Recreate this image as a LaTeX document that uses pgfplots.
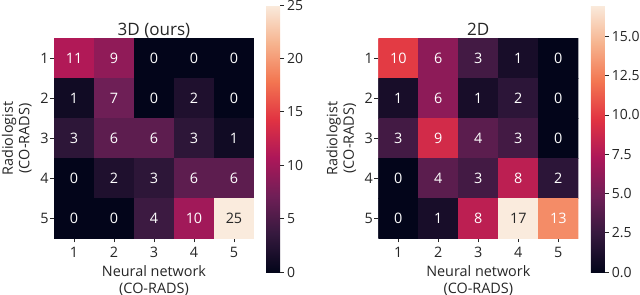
\documentclass[border=0pt]{standalone}
\usepackage{pgfplots}
\pgfplotsset{compat=1.18}
\usepackage{fontspec}
\setmainfont{Open Sans}
\definecolor{txt}{HTML}{262626}
\pgfplotsset{
  colormap={rocket}{rgb255=(3,5,26) rgb255=(53,25,62) rgb255=(112,31,87) rgb255=(173,23,89) rgb255=(225,51,66) rgb255=(243,118,81) rgb255=(246,180,143) rgb255=(250,235,221)},
  hm/.style={
    scale only axis, width=150pt, height=150pt,
    xmin=0.5, xmax=5.5, ymin=0.5, ymax=5.5, y dir=reverse,
    enlargelimits=false,
    xtick={1,...,5}, ytick={1,...,5},
    axis line style={draw=none},
    tick pos=left, tick align=outside, major tick length=3pt,
    tick style={draw=txt, line width=0.6pt},
    /pgf/number format/assume math mode=true,
    tick label style={font=\fontsize{10.8}{12.8}\selectfont, text=txt},
    yticklabel style={xshift=2.5pt},
    colormap name=rocket,
    title style={font=\fontsize{12.8}{15}\selectfont, text=txt, at={(axis description cs:0.5,1)}, anchor=base, yshift=-3.9pt},
    xlabel={Neural network\\(CO-RADS)},
    ylabel={Radiologist\\(CO-RADS)},
    label style={font=\fontsize{10.8}{12.4}\selectfont, text=txt, align=center, inner sep=0pt},
    xlabel style={at={(axis description cs:0.5,-0.135)}, anchor=north},
    ylabel style={at={(axis description cs:-0.11,0.5)}, anchor=south},
    point meta min=0,
    colorbar,
    colorbar style={at={(parent axis.north east)}, anchor=north west, xshift=0.5pt, yshift=25.1pt,
      scale only axis, width=10.5pt, height=200.25pt,
      axis line style={draw=none}, ytick pos=right, tick align=outside, major tick length=3pt,
      tick style={draw=txt, line width=0.6pt},
      /pgf/number format/assume math mode=true,
      yticklabel style={font=\fontsize{10.5}{12.6}\selectfont, text=txt, xshift=-1.2pt}},
  },
  ann/.style={draw=none, mark=none, nodes near coords, point meta=explicit symbolic,
    nodes near coords style={anchor=center, font=\fontsize{10.8}{12.8}\selectfont, text=#1}},
}
\begin{document}
\begin{tikzpicture}
% ---------- 3D (ours) ----------
\begin{axis}[hm, at={(0pt,0pt)}, title={3D (ours)}, point meta max=25,
  colorbar style={ytick={0,5,10,15,20,25}}]
\addplot[matrix plot*, mesh/cols=5, point meta=explicit] table[meta=c] {
x y c
1 1 11
2 1 9
3 1 0
4 1 0
5 1 0
1 2 1
2 2 7
3 2 0
4 2 2
5 2 0
1 3 3
2 3 6
3 3 6
4 3 3
5 3 1
1 4 0
2 4 2
3 4 3
4 4 6
5 4 6
1 5 0
2 5 0
3 5 4
4 5 10
5 5 25
};
\addplot[ann=white] table[meta=l] {
x y l
1 1 11
2 1 9
3 1 0
4 1 0
5 1 0
1 2 1
2 2 7
3 2 0
4 2 2
5 2 0
1 3 3
2 3 6
3 3 6
4 3 3
5 3 1
1 4 0
2 4 2
3 4 3
4 4 6
5 4 6
1 5 0
2 5 0
3 5 4
4 5 10
};
\addplot[ann=txt] table[meta=l] {
x y l
5 5 25
};
\end{axis}
% ---------- 2D ----------
\begin{axis}[hm, at={(243.25pt,0pt)}, title={2D}, point meta max=17,
  colorbar style={xshift=0.3pt, ytick={0,2.5,5,7.5,10,12.5,15},
    /pgf/number format/fixed, /pgf/number format/fixed zerofill, /pgf/number format/precision=1}]
\addplot[matrix plot*, mesh/cols=5, point meta=explicit] table[meta=c] {
x y c
1 1 10
2 1 6
3 1 3
4 1 1
5 1 0
1 2 1
2 2 6
3 2 1
4 2 2
5 2 0
1 3 3
2 3 9
3 3 4
4 3 3
5 3 0
1 4 0
2 4 4
3 4 3
4 4 8
5 4 2
1 5 0
2 5 1
3 5 8
4 5 17
5 5 13
};
\addplot[ann=white] table[meta=l] {
x y l
1 1 10
2 1 6
3 1 3
4 1 1
5 1 0
1 2 1
2 2 6
3 2 1
4 2 2
5 2 0
1 3 3
2 3 9
3 3 4
4 3 3
5 3 0
1 4 0
2 4 4
3 4 3
4 4 8
5 4 2
1 5 0
2 5 1
3 5 8
5 5 13
};
\addplot[ann=txt] table[meta=l] {
x y l
4 5 17
};
\end{axis}
\pgfresetboundingbox
\path[use as bounding box] (-40.5pt,-42.375pt) rectangle (439.5pt,178.875pt);
\end{tikzpicture}
\end{document}
